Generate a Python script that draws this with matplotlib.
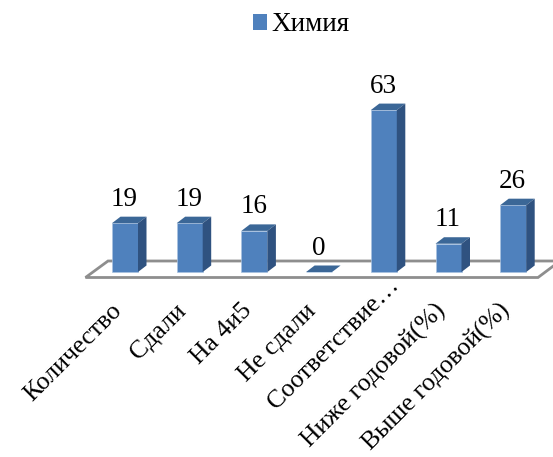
import numpy as np
import matplotlib
matplotlib.use("Agg")
import matplotlib.pyplot as plt
from matplotlib.patches import Polygon, Patch

plt.rcParams['font.family'] = ['Liberation Serif', 'DejaVu Serif']

categories = ["Количество", "Сдали", "На 4и5", "Не сдали", "Соответствие…",
              "Ниже годовой(%)", "Выше годовой(%)"]
values = [19, 19, 16, 0, 63, 11, 26]
series_name = "Химия"

front_color = "#4F81BD"
side_color = "#2F5280"
top_color = "#3B6797"
floor_color = "#8E8E8E"

# пиксели рисунка -> единицы данных
W, H = 553, 457
step_px = 64.7
unit_px = 2.57
x0_px = 125
y0_px = 272

fig = plt.figure(figsize=(W / 100, H / 100), dpi=100)
ax = fig.add_axes([0, 0, 1, 1])
ax.set_xlim(-x0_px / step_px, (W - x0_px) / step_px)
ax.set_ylim(-(H - y0_px) / unit_px, y0_px / unit_px)
ax.axis("off")

bar_w = 26 / step_px
dx = 8.5 / step_px
dy = 6.5 / unit_px

# пол диаграммы
floor = Polygon([[(85.5 - x0_px) / step_px, -5.5 / unit_px],
                 [(538 - x0_px) / step_px, -5.5 / unit_px],
                 [(560 - x0_px) / step_px, 11 / unit_px],
                 [(108 - x0_px) / step_px, 11 / unit_px]],
                closed=True, facecolor="white", edgecolor=floor_color, lw=2, zorder=1)
ax.add_patch(floor)

x = np.arange(len(values))
ax.bar(x, values, width=bar_w, color=front_color, edgecolor="#A9C3E0", linewidth=0.5, zorder=3)

for xi, v in zip(x, values):
    left, right = xi - bar_w / 2, xi + bar_w / 2
    # верхняя и боковая грани
    ax.add_patch(Polygon([(left, v), (right, v), (right + dx, v + dy), (left + dx, v + dy)],
                         closed=True, facecolor=top_color, edgecolor="none", zorder=4))
    if v > 0:
        ax.add_patch(Polygon([(right, 0), (right + dx, dy), (right + dx, v + dy), (right, v)],
                             closed=True, facecolor=side_color, edgecolor="none", zorder=4))
    ax.text(xi - 0.01, v + 11.5 / unit_px, str(v), ha="center", va="bottom", fontsize=19.5, color="black")

for xi, name in zip(x, categories):
    # подпись с многоточием в оригинале заканчивается выше остальных
    shift_x, shift_y = (18, 26) if name.endswith("…") else (0, 0)
    ax.text(xi - 0.10 + shift_x / step_px, (-35.5 + shift_y) / unit_px, name, rotation=45,
            rotation_mode="anchor", ha="right", va="center", fontsize=18.5, color="black")

handle = Patch(facecolor=front_color, edgecolor="none")
ax.legend([handle], [series_name], loc="upper center", bbox_to_anchor=(0.545, 1.026), frameon=False,
          fontsize=19.5, handlelength=0.52, handleheight=0.52, handletextpad=0.17)

fig.savefig("out.png", dpi=100)
